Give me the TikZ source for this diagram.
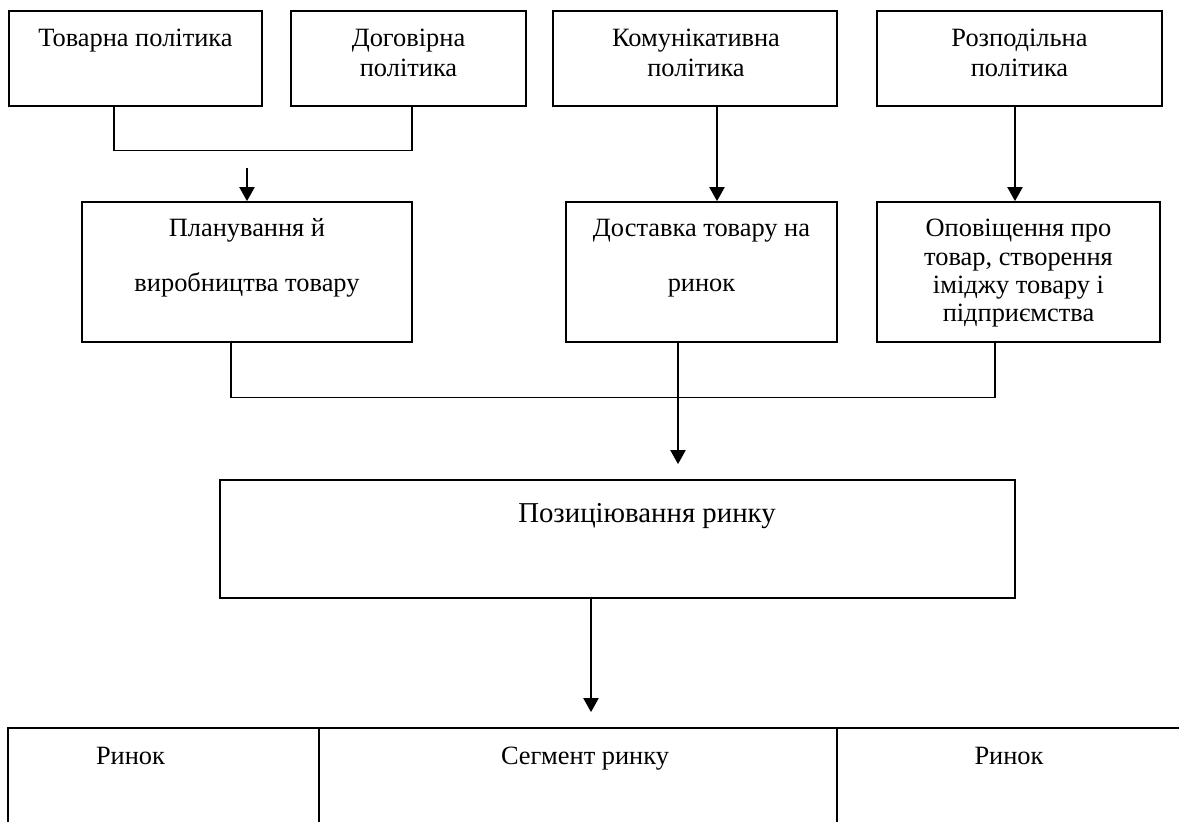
\documentclass[tikz,border=0pt]{standalone}
\usepackage{fontspec}
\setmainfont{Liberation Serif}
\usetikzlibrary{arrows.meta}

\begin{document}
\begin{tikzpicture}[x=0.5pt,y=-0.5pt,
  box/.style={draw,line width=0.85pt,inner sep=0pt},
  txt/.style={align=center,inner sep=0pt,anchor=base,font=\fontsize{13.2}{15}\selectfont},
  link/.style={line width=0.65pt},
  arr/.style={line width=1pt,-{Triangle[length=7pt,width=7.5pt]}}]
\useasboundingbox (0,0) rectangle (1179,822);
\clip (0,0) rectangle (1179,822);
% top row
\node[box,minimum width=126.5pt,minimum height=47.5pt] (tov) at (135.5,58.5) {};
\node[box,minimum width=117.5pt,minimum height=47.5pt] (dog) at (408.5,58.5) {};
\node[box,minimum width=142pt,minimum height=47.5pt] (kom) at (695,58.5) {};
\node[box,minimum width=142.5pt,minimum height=47.5pt] (roz) at (1019.5,58.5) {};
% (base of a multi-line text = its last line)
\node[txt] (tovT) at (135.5,47) {Товарна політика};
\node[txt] (dogT) at (408.5,77) {Договірна\\політика};
\node[txt] (komT) at (696,77) {Комунікативна\\політика};
\node[txt] (rozT) at (1019.5,77) {Розподільна\\політика};
% second row
\node[box,minimum width=165pt,minimum height=70pt] (plan) at (247,272) {};
\node[box,minimum width=135.5pt,minimum height=70pt] (dost) at (701.5,272) {};
\node[box,minimum width=141.5pt,minimum height=70pt] (opov) at (1018.5,272) {};
\node[txt] (planT) at (247,292) {Планування й\\[12.5pt]виробництва товару};
\node[txt] (dostT) at (701.5,292) {Доставка товару на\\[12.5pt]ринок};
\node[txt,font=\fontsize{13.2}{14.2}\selectfont] (opovT) at (1018.5,322)
  {Оповіщення про\\товар, створення\\іміджу товару і\\підприємства};
% positioning
\node[box,minimum width=397.5pt,minimum height=59pt] (poz) at (617.5,539) {};
\node[txt,font=\fontsize{14.4}{16}\selectfont] (pozT) at (647,523) {Позиціювання ринку};
% bottom row (cut off by the page)
\node[box,minimum width=155.5pt,minimum height=86pt] (rin1) at (163.5,814) {};
\node[box,minimum width=259pt,minimum height=86pt] (seg) at (578,814) {};
\node[box,minimum width=231.5pt,minimum height=86pt] (rin2) at (1068.5,814) {};
\node[txt] (rin1T) at (130.5,765) {Ринок};
\node[txt] (segT) at (585,765) {Сегмент ринку};
\node[txt] (rin2T) at (1009,765) {Ринок};
% connectors
\coordinate (j1) at (247,168);
\draw[link] ([xshift=-10.75pt]tov.south) -- ++(0,44) -| ([xshift=1.75pt]dog.south);
\draw[arr] (j1) -- (plan.north);
\draw[arr] ([xshift=11pt]kom.south) -- ([xshift=7.75pt]dost.north);
\draw[arr] ([xshift=-2.25pt]roz.south) -- ([xshift=-1.75pt]opov.north);
\draw[link] ([xshift=-8pt]plan.south) -- ++(0,55) -| ([xshift=-11.75pt]opov.south);
\draw[arr,shorten >=7.5pt] ([xshift=-11.75pt]dost.south) -- ([xshift=30.25pt]poz.north);
\draw[arr,shorten >=7.5pt] ([xshift=-13.25pt]poz.south) -- ([xshift=6.5pt]seg.north);
\end{tikzpicture}
\end{document}
